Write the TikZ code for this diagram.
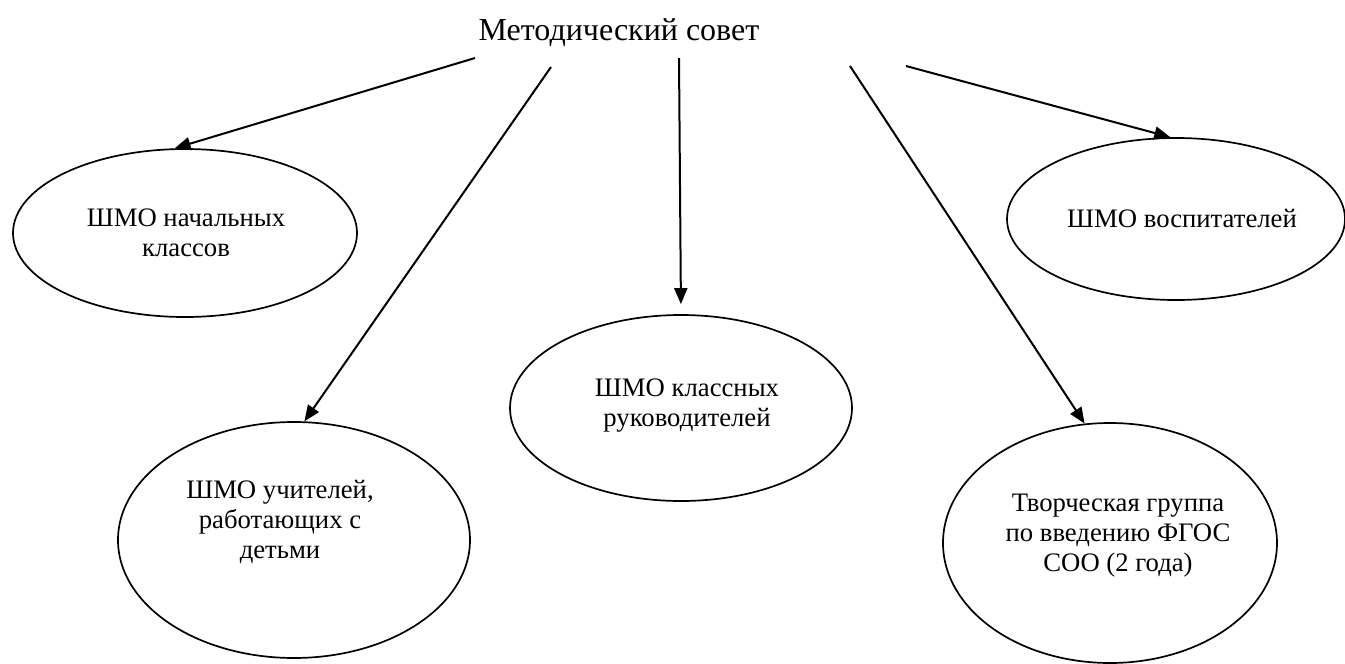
\documentclass[tikz,border=0pt]{standalone}
\usepackage{fontspec}
\setmainfont{Liberation Serif}
\usetikzlibrary{shapes.geometric,arrows.meta}
\begin{document}
\begin{tikzpicture}[x=1pt,y=-1pt,
  ell/.style={draw, ellipse, line width=1.7pt, inner sep=0pt},
  txt/.style={align=center, inner sep=0pt, font=\fontsize{26.7}{30}\selectfont},
  ttl/.style={inner sep=0pt, font=\fontsize{32}{36}\selectfont},
  arr/.style={-{Triangle[length=16pt,width=13pt]}, line width=2pt}]
\useasboundingbox (0,0) rectangle (1345,664);
% title
\node[ttl, anchor=base] (t) at (619,40) {Методический совет};
% ellipses
\node[ell, minimum width=344pt, minimum height=168pt] (e1) at (185,233) {};
\node[ell, minimum width=352pt, minimum height=236pt] (e2) at (294,540) {};
\node[ell, minimum width=342pt, minimum height=186pt] (e3) at (681,408) {};
\node[ell, minimum width=338pt, minimum height=162pt] (e4) at (1176,219) {};
\node[ell, minimum width=334pt, minimum height=240pt] (e5) at (1110,543) {};
% texts
\node[txt] (l1) at (186,233) {ШМО начальных\\классов};
\node[txt] (l2) at (280,522) {ШМО учителей,\\работающих с\\детьми};
\node[txt] (l3) at (687,406) {ШМО классных\\руководителей};
\node[txt] (l4) at (1182,218) {ШМО воспитателей};
\node[txt] (l5) at (1118,536) {Творческая группа\\по введению ФГОС\\СОО (2 года)};
% arrow starts
\coordinate (s1) at (475,58);
\coordinate (s2) at (551,67);
\coordinate (s3) at (679,58);
\coordinate (s4) at (906,66);
\coordinate (s5) at (850,66);
% arrows
\draw[arr] (s1) -- (e1.97);
\draw[arr] (s2) -- (e2.85);
\draw[arr, shorten >=10pt] (s3) -- (e3.north);
\draw[arr] (s4) -- (e4.94);
\draw[arr] (s5) -- (e5.102);
\end{tikzpicture}
\end{document}
